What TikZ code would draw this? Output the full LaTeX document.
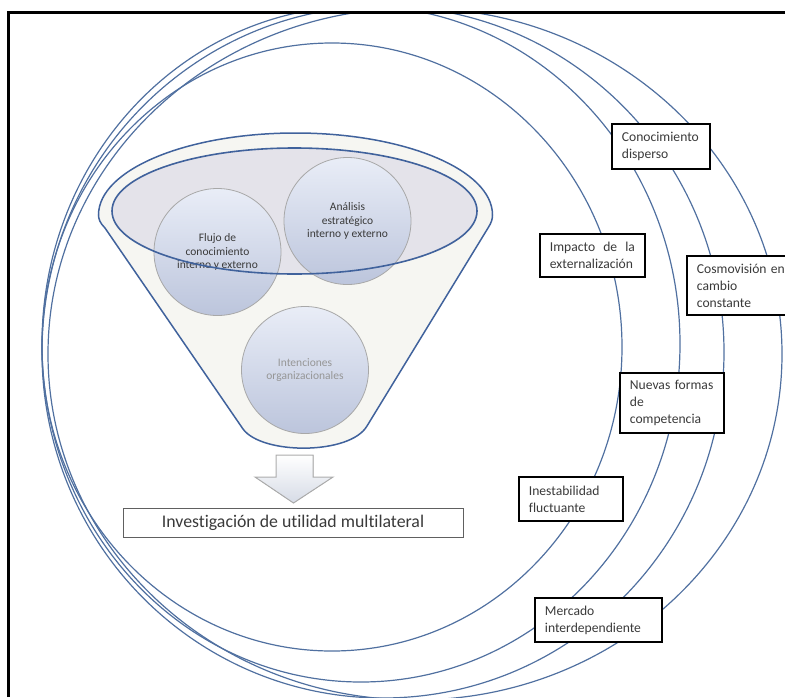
\documentclass[tikz,border=0pt]{standalone}
\usepackage{fontspec}
\setmainfont{Carlito}[Ligatures=NoCommon]
\usepackage{tikz}

\definecolor{ringblue}{RGB}{80,112,160}
\definecolor{funnelblue}{RGB}{64,98,156}
\definecolor{funnelfill}{RGB}{246,246,242}
\definecolor{rimfill}{RGB}{228,227,234}
\definecolor{bubbletop}{RGB}{233,237,247}
\definecolor{bubblebot}{RGB}{188,197,220}
\definecolor{bubbleline}{RGB}{168,168,168}
\definecolor{boxtext}{RGB}{58,58,58}
\definecolor{paletext}{RGB}{150,150,150}
\definecolor{arrowfill}{RGB}{214,219,230}

\tikzset{
  ring/.style={draw=ringblue, line width=1.2pt},
  funnel/.style={draw=funnelblue, line width=1.5pt, fill=funnelfill},
  rim/.style={draw=funnelblue, line width=1.6pt},
  bubble/.style={circle, minimum size=127pt, inner sep=0pt, draw=bubbleline, line width=0.8pt,
    top color=bubbletop, bottom color=bubblebot, align=center, text=boxtext,
    font=\fontsize{11.5}{13.5}\selectfont},
  infobox/.style={draw=black, line width=1.8pt, fill=white, anchor=north west,
    inner xsep=10pt, inner ysep=0pt, align=left, text=boxtext,
    font=\fontsize{13.6}{17}\selectfont},
  resultbox/.style={draw=gray!75!black, line width=1pt, fill=white, minimum width=340pt,
    minimum height=29pt, inner sep=0pt, text=boxtext, font=\fontsize{17.8}{20}\selectfont},
  downarrow/.style={draw=gray!65, line width=1pt, top color=white, bottom color=arrowfill}
}

\begin{document}
\begin{tikzpicture}[x=1pt,y=-1pt]

\useasboundingbox (0,0) rectangle (785,697);
\clip (0,0) rectangle (785,697);

\begin{scope}
\clip (8,12) rectangle (785,697);
\draw[ring] (332,347) ellipse [x radius=290, y radius=304];
\draw[ring] (361,344) ellipse [x radius=319, y radius=338];
\draw[ring] (383,352) ellipse [x radius=341, y radius=346];
\draw[ring] (415,354) ellipse [x radius=367, y radius=346];
\end{scope}

\draw[line width=3pt] (8.5,697) -- (8.5,12) -- (785,12);

\filldraw[funnel] (105,228) -- (243,429) .. controls (262,455) and (350,455) .. (367,426)
  -- (488,228) .. controls (492,222) and (492.5,218) .. (492.5,215)
  arc[start angle=0, end angle=180, x radius=197pt, y radius=82pt]
  .. controls (98.5,219) and (100,223) .. (105,228) -- cycle;
\fill[rimfill] (294.5,211) ellipse [x radius=182.5, y radius=63];

\node[bubble] (flujo) at (217.5,252) {Flujo de\\conocimiento\\interno y externo};
\node[bubble] (analisis) at (347.5,221) {Análisis\\estratégico\\interno y externo};
\node[bubble, text=paletext] (intenciones) at (305,370) {Intenciones\\organizacionales};

\draw[rim] (294.5,211) ellipse [x radius=182.5, y radius=63];

\path[shape=coordinate]
(276,455) coordinate(a1) (276,477) coordinate(a2)
(255,477) coordinate(a3) (293.5,503) coordinate(a4)
(333,477) coordinate(a5) (313,477) coordinate(a6)
(313,455) coordinate(a7);
\filldraw[downarrow] (a1) -- (a2) -- (a3) -- (a4) -- (a5) -- (a6) -- (a7) -- cycle;

\node[resultbox] (inv) at (293,522.5) {Investigación de utilidad multilateral};

\node[infobox, text width=78pt, minimum height=45pt] (t1) at (611,123) {Conocimiento\\disperso};
\node[infobox, text width=85pt, minimum height=43pt] (t2) at (539,233) {Impacto\hfill de\hfill la\\externalización};
\node[infobox, text width=88pt, minimum height=59pt] (t3) at (686,255) {Cosmovisión\hfill en\\cambio\\constante};
\node[infobox, text width=84pt, minimum height=60pt] (t4) at (619,372) {Nuevas formas\\de\\competencia};
\node[infobox, text width=84pt, minimum height=44pt] (t5) at (518,476) {Inestabilidad\\fluctuante};
\node[infobox, text width=107pt, minimum height=44pt] (t6) at (534,597) {Mercado\\interdependiente};

\end{tikzpicture}
\end{document}
